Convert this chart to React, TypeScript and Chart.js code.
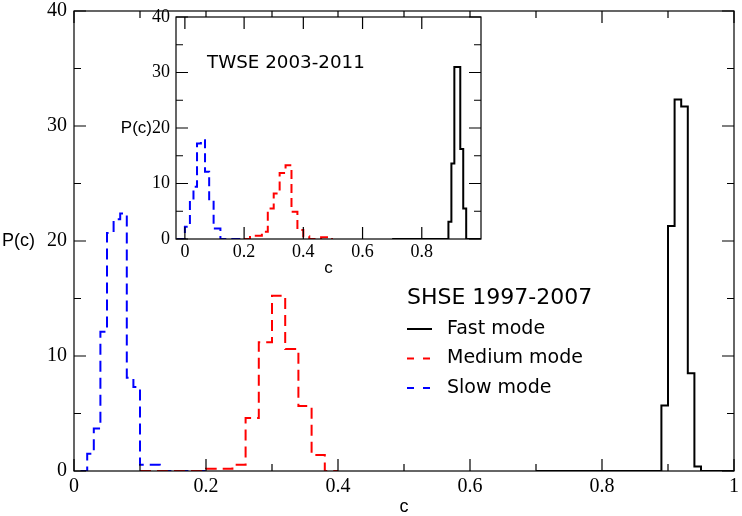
import React, { useEffect, useRef } from 'react';
import { Chart, registerables } from 'chart.js';
Chart.register(...registerables);

// ---------- Main chart: SHSE 1997-2007 ----------
const mainXTicks = [0, 0.2, 0.4, 0.6, 0.8, 1];
const mainXMinor = [0.1, 0.3, 0.5, 0.7, 0.9];
const mainYTicks = [0, 10, 20, 30, 40];
const mainYMinor = [5, 15, 25, 35];

// histogram bin edges and bar heights (values[i] spans edges[i]..edges[i+1])
const mainFastEdges = [0.70, 0.89, 0.90, 0.91, 0.92, 0.93, 0.94, 0.95, 1.00];
const mainFastValues = [0, 5.7, 21.3, 32.3, 31.7, 8.5, 0.4, 0];
const mainMediumEdges = [0.10, 0.20, 0.22, 0.24, 0.26, 0.28, 0.30, 0.32, 0.34, 0.36, 0.38, 0.40];
const mainMediumValues = [0, 0.2, 0.2, 0.55, 4.6, 11.2, 15.25, 10.6, 5.65, 1.4, 0];
const mainSlowEdges = [0.01, 0.02, 0.03, 0.04, 0.05, 0.06, 0.07, 0.08, 0.09, 0.10, 0.11, 0.12, 0.13, 0.20];
const mainSlowValues = [0, 1.5, 3.7, 12.1, 20.7, 21.9, 22.4, 8.1, 7.3, 0.55, 0.55, 0.55, 0];

// ---------- Inset chart: TWSE 2003-2011 ----------
const insetXTicks = [0, 0.2, 0.4, 0.6, 0.8];
const insetYTicks = [0, 10, 20, 30, 40];
const insetYMinor = [5, 15, 25, 35];

const insetFastEdges = [0.70, 0.89, 0.90, 0.91, 0.93, 0.94, 0.95, 1.00];
const insetFastValues = [0, 3.1, 13.6, 31.0, 16.2, 5.5, 0];
const insetMediumEdges = [0.20, 0.22, 0.26, 0.28, 0.30, 0.32, 0.34, 0.36, 0.38, 0.40, 0.42, 0.46, 0.48, 0.50];
const insetMediumValues = [0, 0.6, 1.3, 5.5, 8.2, 11.9, 13.3, 4.9, 1.6, 0.5, 0, 0.3, 0];
const insetSlowEdges = [-0.027, 0, 0.017, 0.029, 0.041, 0.054, 0.068, 0.082, 0.097, 0.12, 0.19];
const insetSlowValues = [0, 2.2, 7.0, 9.4, 17.2, 17.8, 12.1, 7.0, 1.9, 0];

const legendTitle = 'SHSE 1997-2007';
const insetTitle = 'TWSE 2003-2011';
const seriesNames = ['Fast mode', 'Medium mode', 'Slow mode'];
const seriesColors = ['#000000', '#ff0000', '#0000ff'];

const SANS = '"Liberation Sans", Arial, sans-serif';
const DEJAVU = '"DejaVu Sans", sans-serif';
const SERIF = '"Liberation Serif", "Times New Roman", serif';

function histogram(edges: number[], values: number[]) {
  return edges.map((e, i) => ({ x: e, y: i < values.length ? values[i] : values[values.length - 1] }));
}

function drawFrame(chart: any, xMajor: number[], xMinor: number[], yMajor: number[], yMinor: number[], majorLen: number, minorLen: number) {
  const { ctx, chartArea: a, scales } = chart;
  const xs = scales.x, ys = scales.y;
  ctx.save();
  ctx.strokeStyle = '#000';
  ctx.lineWidth = 1.2;
  ctx.setLineDash([]);
  ctx.strokeRect(a.left, a.top, a.right - a.left, a.bottom - a.top);
  ctx.beginPath();
  const tx = (vals: number[], len: number) => vals.forEach((v) => {
    const p = xs.getPixelForValue(v);
    ctx.moveTo(p, a.bottom); ctx.lineTo(p, a.bottom - len);
    ctx.moveTo(p, a.top); ctx.lineTo(p, a.top + len);
  });
  const ty = (vals: number[], len: number) => vals.forEach((v) => {
    const p = ys.getPixelForValue(v);
    ctx.moveTo(a.left, p); ctx.lineTo(a.left + len, p);
    ctx.moveTo(a.right, p); ctx.lineTo(a.right - len, p);
  });
  tx(xMajor, majorLen); tx(xMinor, minorLen);
  ty(yMajor, majorLen); ty(yMinor, minorLen);
  ctx.stroke();
  ctx.restore();
}

const mainDecor = {
  id: 'mainDecor',
  afterDraw(chart: any) {
    const { ctx, chartArea: a, scales } = chart;
    drawFrame(chart, mainXTicks, mainXMinor, mainYTicks, mainYMinor, 12, 7);
    ctx.save();
    ctx.fillStyle = '#000';
    ctx.font = `18px ${SANS}`;
    ctx.textBaseline = 'middle';
    ctx.textAlign = 'left';
    ctx.fillText('P(c)', 2, scales.y.getPixelForValue(20));
    ctx.textAlign = 'center';
    ctx.fillText('c', (a.left + a.right) / 2, a.bottom + 36);
    // legend
    const lx = a.left + 333;
    const ly = a.top + 287;
    ctx.textAlign = 'left';
    ctx.font = `22px ${DEJAVU}`;
    ctx.fillText(legendTitle, lx, ly);
    ctx.font = `19px ${DEJAVU}`;
    chart.data.datasets.forEach((ds: any, i: number) => {
      const y = ly + 31 + i * 29.5;
      ctx.beginPath();
      ctx.strokeStyle = ds.borderColor;
      ctx.lineWidth = 2;
      ctx.setLineDash(ds.borderDash && ds.borderDash.length ? [7, 9] : []);
      ctx.moveTo(lx, y); ctx.lineTo(lx + 25, y);
      ctx.stroke();
      ctx.setLineDash([]);
      ctx.fillText(ds.label, lx + 40, y);
    });
    ctx.restore();
  },
};

const insetDecor = {
  id: 'insetDecor',
  beforeDraw(chart: any) {
    const { ctx, chartArea: a } = chart;
    ctx.save();
    ctx.fillStyle = '#fff';
    ctx.fillRect(a.left, a.top, a.right - a.left, a.bottom - a.top);
    ctx.restore();
  },
  afterDraw(chart: any) {
    const { ctx, chartArea: a, scales } = chart;
    drawFrame(chart, insetXTicks, [], insetYTicks, insetYMinor, 12, 7);
    ctx.save();
    ctx.fillStyle = '#000';
    ctx.textBaseline = 'middle';
    ctx.font = `18px ${SERIF}`;
    const w20 = ctx.measureText('20').width;
    ctx.font = `17px ${SANS}`;
    ctx.textAlign = 'right';
    ctx.fillText('P(c)', a.left - 6 - w20, scales.y.getPixelForValue(20));
    ctx.textAlign = 'center';
    ctx.fillText('c', (a.left + a.right) / 2, a.bottom + 29);
    ctx.textAlign = 'left';
    ctx.font = `18.3px ${DEJAVU}`;
    ctx.fillText(insetTitle, a.left + 31, a.top + 46);
    ctx.restore();
  },
};

function makeDatasets(fast: any[], medium: any[], slow: any[], dash: number[]) {
  const sets = [fast, medium, slow];
  return sets.map((d, i) => ({
    label: seriesNames[i],
    data: d,
    borderColor: seriesColors[i],
    backgroundColor: seriesColors[i],
    borderWidth: 2,
    borderDash: i === 0 ? [] : dash,
    stepped: 'before' as const,
    pointRadius: 0,
    fill: false,
    tension: 0,
  }));
}

function axis(min: number, max: number, ticks: number[], fontSize: number, padding: number, size: number, isX: boolean) {
  return {
    type: 'linear' as const,
    min,
    max,
    grid: { display: false, drawTicks: false, tickLength: 0 },
    border: { display: false },
    ticks: {
      autoSkip: false,
      maxRotation: 0,
      padding,
      color: '#000',
      font: { family: SERIF, size: fontSize },
      callback: (v: any) => String(v),
    },
    afterBuildTicks: (s: any) => { s.ticks = ticks.map((v) => ({ value: v })); },
    afterFit: (s: any) => {
      if (isX) s.height = size; else s.width = size;
      s.paddingLeft = 0; s.paddingRight = 0; s.paddingTop = 0; s.paddingBottom = 0;
    },
  };
}

export default function App() {
  const mainRef = useRef<HTMLCanvasElement>(null);
  const insetRef = useRef<HTMLCanvasElement>(null);

  useEffect(() => {
    const main = new Chart(mainRef.current!, {
      type: 'line',
      data: {
        datasets: makeDatasets(
          histogram(mainFastEdges, mainFastValues),
          histogram(mainMediumEdges, mainMediumValues),
          histogram(mainSlowEdges, mainSlowValues),
          [11, 6],
        ),
      },
      options: {
        responsive: false,
        animation: false,
        events: [],
        layout: { padding: { left: 0, top: 11, right: 8, bottom: 0 } },
        plugins: { legend: { display: false }, tooltip: { enabled: false } },
        scales: {
          x: axis(0, 1, mainXTicks, 20, 4, 45, true),
          y: axis(0, 40, mainYTicks, 20, 7, 74, false),
        },
      },
      plugins: [mainDecor],
    });
    const inset = new Chart(insetRef.current!, {
      type: 'line',
      data: {
        datasets: makeDatasets(
          histogram(insetFastEdges, insetFastValues),
          histogram(insetMediumEdges, insetMediumValues),
          histogram(insetSlowEdges, insetSlowValues),
          [9, 5],
        ),
      },
      options: {
        responsive: false,
        animation: false,
        events: [],
        layout: { padding: { left: 0, top: 13, right: 9, bottom: 0 } },
        plugins: { legend: { display: false }, tooltip: { enabled: false } },
        scales: {
          x: axis(-0.03, 1, insetXTicks, 18, 2, 41, true),
          y: axis(0, 40, insetYTicks, 18, 6, 66, false),
        },
      },
      plugins: [insetDecor],
    });
    return () => { main.destroy(); inset.destroy(); };
  }, []);

  return (
    <div style={{ position: 'absolute', left: 0, top: 0, width: 742, height: 516, background: '#fff' }}>
      <canvas ref={mainRef} width={742} height={516} style={{ position: 'absolute', left: 0, top: 0 }} />
      <canvas ref={insetRef} width={380} height={276} style={{ position: 'absolute', left: 110, top: 4 }} />
    </div>
  );
}
